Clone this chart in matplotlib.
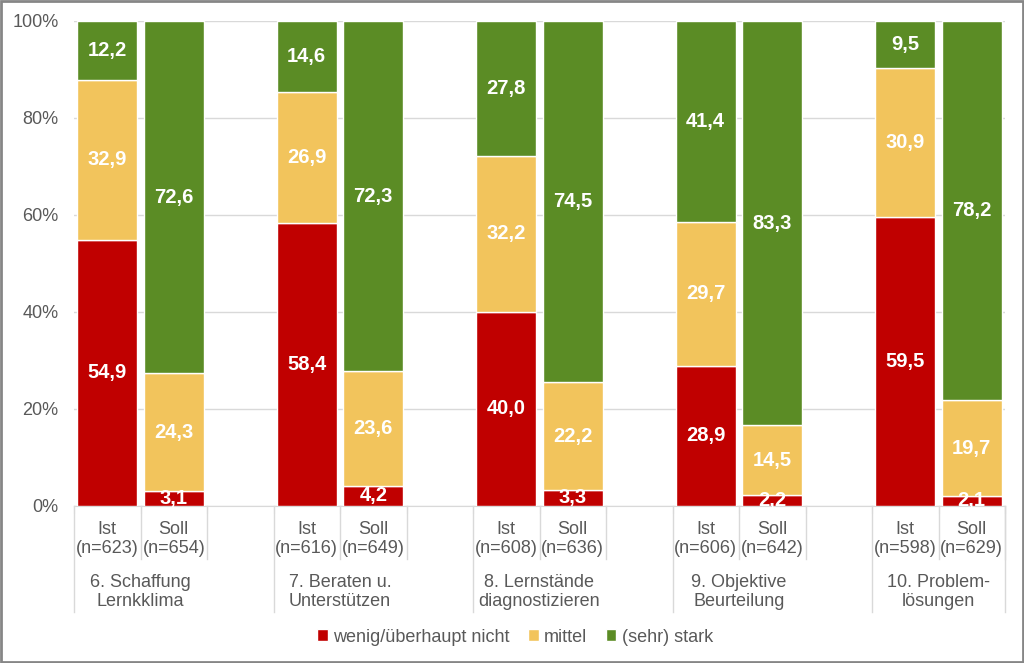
import matplotlib
matplotlib.use('Agg')
import matplotlib.pyplot as plt
from matplotlib.patches import Rectangle
import numpy as np

plt.rcParams['font.family'] = ['Liberation Sans', 'DejaVu Sans']

groups = ['6. Schaffung\nLernkklima', '7. Beraten u.\nUnterstützen', '8. Lernstände\ndiagnostizieren',
          '9. Objektive\nBeurteilung', '10. Problem-\nlösungen']
n_ist = [623, 616, 608, 606, 598]
n_soll = [654, 649, 636, 642, 629]

ist_wenig = [54.9, 58.4, 40.0, 28.9, 59.5]
ist_mittel = [32.9, 26.9, 32.2, 29.7, 30.9]
ist_stark = [12.2, 14.6, 27.8, 41.4, 9.5]
soll_wenig = [3.1, 4.2, 3.3, 2.2, 2.1]
soll_mittel = [24.3, 23.6, 22.2, 14.5, 19.7]
soll_stark = [72.6, 72.3, 74.5, 83.3, 78.2]

series = ['wenig/überhaupt nicht', 'mittel', '(sehr) stark']
colors = ['#C00000', '#F2C45C', '#5B8C25']
grid_c = '#D9D9D9'
text_c = '#595959'
fs = 13

fig = plt.figure(figsize=(10.24, 6.63), dpi=100)
ax = fig.add_axes([74/1024, 1 - 506/663, 931/1024, 485/663])

x_ist = np.arange(5) * 3
x_soll = x_ist + 1
wid = 0.9

for xs, vals in [(x_ist, [ist_wenig, ist_mittel, ist_stark]),
                 (x_soll, [soll_wenig, soll_mittel, soll_stark])]:
    bottom = np.zeros(5)
    for v, c, name in zip(vals, colors, series):
        v = np.array(v)
        bars = ax.bar(xs, v, wid, bottom=bottom, color=c, edgecolor='white', linewidth=1,
                      label=name if xs is x_ist else None, zorder=3)
        ax.bar_label(bars, labels=[f'{a:.1f}'.replace('.', ',') for a in v], label_type='center',
                     color='white', fontweight='bold', fontsize=14.5, zorder=4)
        bottom = bottom + v

ax.set_xlim(-0.5, 13.5)
ax.set_ylim(0, 100)
ax.set_yticks(np.arange(0, 101, 20))
ax.set_yticklabels([f'{t}%' for t in range(0, 101, 20)], color=text_c, fontsize=fs)
ax.tick_params(axis='y', length=0, pad=11)
ax.yaxis.grid(True, color=grid_c, linewidth=1, zorder=0)
for s in ['top', 'right', 'left']:
    ax.spines[s].set_visible(False)
ax.spines['bottom'].set_color(grid_c)
ax.set_xticks(np.arange(-0.5, 14, 1))
ax.set_xticklabels([])
ax.tick_params(axis='x', length=5, color=grid_c, direction='out')

tr = ax.get_xaxis_transform()
for g in range(5):
    ax.text(x_ist[g], -0.069, f'Ist\n(n={n_ist[g]})', transform=tr, ha='center', va='center',
            color=text_c, fontsize=fs, linespacing=1.15)
    ax.text(x_soll[g], -0.069, f'Soll\n(n={n_soll[g]})', transform=tr, ha='center', va='center',
            color=text_c, fontsize=fs, linespacing=1.15)
    ax.text(x_ist[g] + 0.5, -0.178, groups[g], transform=tr, ha='center', va='center',
            color=text_c, fontsize=fs, linespacing=1.15)
    for xl in [x_ist[g] + 0.5, x_ist[g] + 1.5]:
        ax.plot([xl, xl], [0, -0.109], transform=tr, color=grid_c, lw=1, clip_on=False)
for xl in [-0.5, 2.5, 5.5, 8.5, 11.5, 13.5]:
    ax.plot([xl, xl], [0, -0.219], transform=tr, color=grid_c, lw=1, clip_on=False)

fig.legend(loc='center', bbox_to_anchor=(0.503, 1 - 637/663), ncol=3, frameon=False,
           handlelength=0.6, handleheight=0.6, handletextpad=0.3, columnspacing=1.0,
           fontsize=fs, labelcolor=text_c)

fig.patches.append(Rectangle((0.001, 0.0015), 0.998, 0.997, transform=fig.transFigure,
                             fill=False, edgecolor='#868686', linewidth=2))

fig.savefig('out.png', dpi=100)
